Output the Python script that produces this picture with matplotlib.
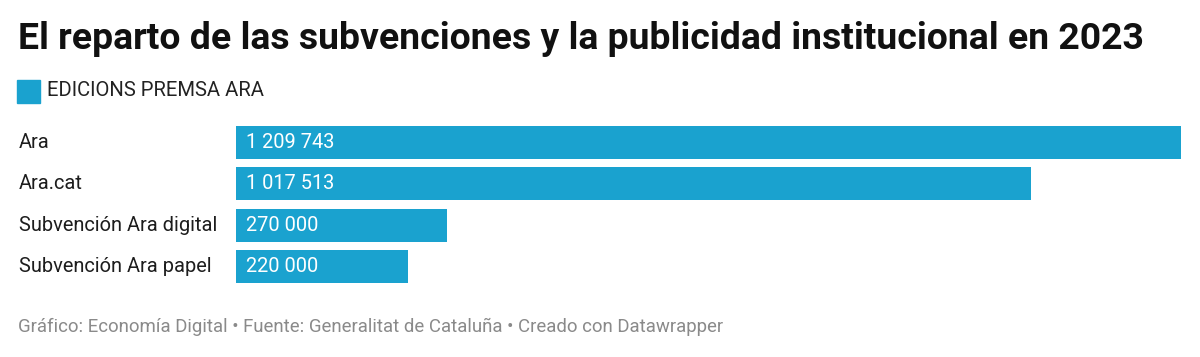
import matplotlib
matplotlib.use("Agg")
import matplotlib.pyplot as plt

# --- data ------------------------------------------------------------------
categories = ["Ara", "Ara.cat", "Subvención Ara digital", "Subvención Ara papel"]
values = [1209743, 1017513, 270000, 220000]
series_name = "EDICIONS PREMSA ARA"

BLUE = "#1aa2cf"
DARK = "#1d1d1d"
GREY = "#8a8a8a"

W, H = 1200, 357
plt.rcParams["font.family"] = ["Roboto", "DejaVu Sans"]


def fx(px):
    return px / W


def fy(py):
    return 1 - py / H


def fmt(v):
    return f"{v:,}".replace(",", " ")


fig = plt.figure(figsize=(W / 100, H / 100), dpi=100, facecolor="white")

fig.text(fx(18), fy(39), "El reparto de las subvenciones y la publicidad institucional en 2023",
         fontsize=26.9, fontweight="bold", color="#111111", ha="left", va="center")

# legend swatch + label
fig.patches.append(plt.Rectangle((fx(17), fy(103)), fx(40) - fx(17), fy(80) - fy(103),
                                 transform=fig.transFigure, color=BLUE, figure=fig))
fig.text(fx(47), fy(91), series_name, fontsize=14.6, color="#222222", ha="left", va="center")

# bars
ax = fig.add_axes([fx(236), fy(283), fx(1181) - fx(236), fy(126) - fy(283)])
pos = list(range(len(categories)))
ax.barh(pos, values, height=0.8, color=BLUE)
ax.set_xlim(0, max(values))
ax.set_ylim(len(categories) - 0.6, -0.4)
ax.axis("off")

for p, cat, v in zip(pos, categories, values):
    ax.text(-217 / 945 * max(values), p, cat, fontsize=14.4, color=DARK,
            ha="left", va="center")
    ax.text(10 / 945 * max(values), p, fmt(v), fontsize=14.4, color="white",
            ha="left", va="center")

fig.text(fx(18), fy(327), "Gráfico: Economía Digital • Fuente: Generalitat de Cataluña • Creado con Datawrapper",
         fontsize=13.4, color=GREY, ha="left", va="center")

fig.savefig("out.png", dpi=100, facecolor="white")
